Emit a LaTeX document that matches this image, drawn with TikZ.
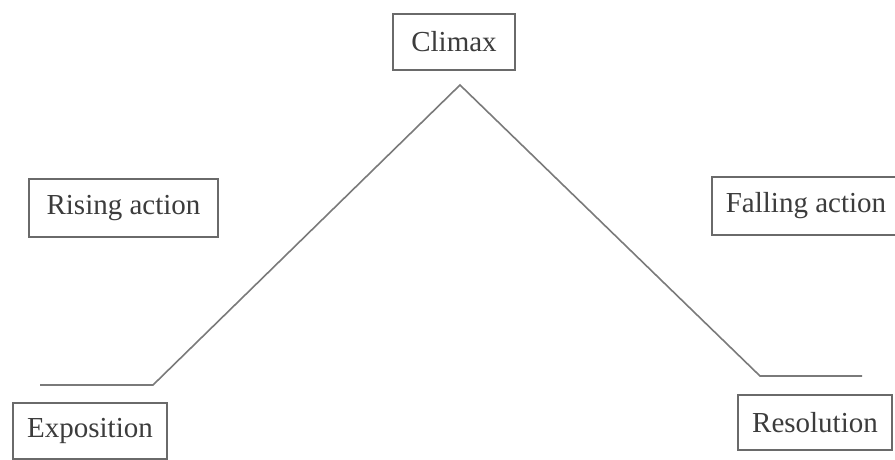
\documentclass[tikz,border=0pt]{standalone}
\usepackage{fontspec}
\setmainfont{Liberation Serif}
\definecolor{inkline}{HTML}{7A7A7A}
\definecolor{inktext}{HTML}{3C3C3C}
\definecolor{inkbox}{HTML}{6A6A6A}
\begin{document}
\begin{tikzpicture}[x=1pt,y=-1pt,
  labelbox/.style={draw=inkbox,line width=1.2pt,text=inktext,inner sep=0pt,
    font=\fontsize{29}{32}\selectfont,anchor=center},
  plotline/.style={draw=inkline,line width=1.6pt,line join=miter}]
\useasboundingbox (0,0) rectangle (895,459);
\clip (0,0) rectangle (895,459);
\fill[white] (0,0) rectangle (895,459);
% labels
\node[labelbox,minimum width=122pt,minimum height=56pt] (climax) at (454,42) {Climax};
\node[labelbox,minimum width=189pt,minimum height=58pt] (rising) at (123.5,208) {Rising action};
\node[labelbox,minimum width=188pt,minimum height=58pt] (falling) at (806,206) {Falling action};
\node[labelbox,minimum width=154pt,minimum height=56pt] (expo) at (90,431) {Exposition};
\node[labelbox,minimum width=154pt,minimum height=55pt] (reso) at (815,422.5) {Resolution};
% pyramid
\coordinate (e0) at (40,385);
\coordinate (e1) at (153,385);
\coordinate (peak) at (460,85);
\coordinate (r0) at (760,376);
\coordinate (r1) at (862,376);
\draw[plotline] (e0) -- (e1) -- (peak) -- (r0) -- (r1);
\end{tikzpicture}
\end{document}
